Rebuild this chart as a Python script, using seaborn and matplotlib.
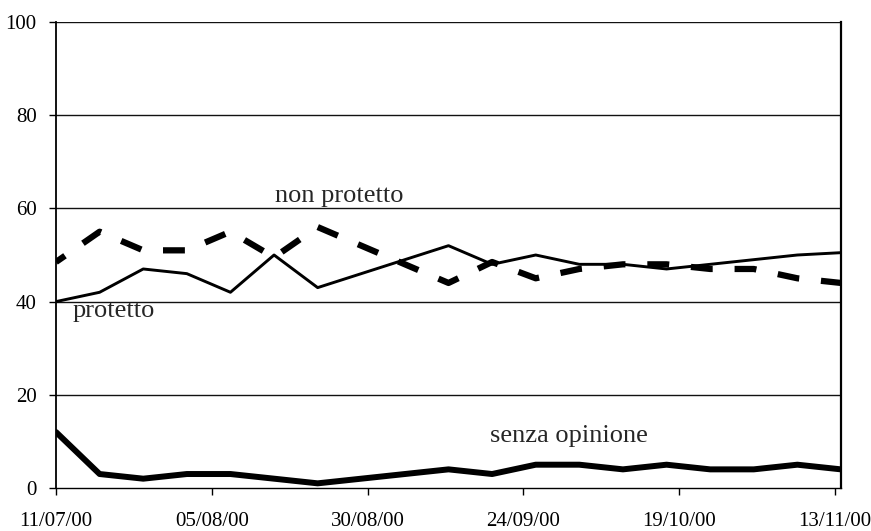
import matplotlib
matplotlib.use("Agg")
import matplotlib.pyplot as plt
import matplotlib.dates as mdates
import seaborn as sns
import pandas as pd

dates = pd.date_range("2000-07-11", periods=19, freq="7D")
protetto = [40, 42, 47, 46, 42, 50, 43, 46, 49, 52, 48, 50, 48, 48, 47, 48, 49, 50, 50.5]
non_protetto = [48.5, 55, 51, 51, 55, 49.5, 56, 52, 48, 44, 48.5, 45, 47, 48, 48, 47, 47, 45, 44]
senza_opinione = [12, 3, 2, 3, 3, 2, 1, 2, 3, 4, 3, 5, 5, 4, 5, 4, 4, 5, 4]
y_ticks = [0, 20, 40, 60, 80, 100]

sns.set_style("white")
plt.rcParams["font.family"] = ["Liberation Serif", "DejaVu Serif"]

fig = plt.figure(figsize=(8.71, 5.31), dpi=100)
ax = fig.add_axes([56 / 871, 1 - 488 / 531, (841 - 56) / 871, (488 - 22) / 531])

df = pd.DataFrame({"date": dates, "protetto": protetto,
                   "non_protetto": non_protetto, "senza": senza_opinione})

for yv in y_ticks[1:]:
    ax.axhline(yv, color="#111111", lw=1.0, zorder=1)

sns.lineplot(data=df, x="date", y="protetto", ax=ax, color="black", lw=2.1, zorder=3)
sns.lineplot(data=df, x="date", y="senza", ax=ax, color="black", lw=4.3, zorder=3)
sns.lineplot(data=df, x="date", y="non_protetto", ax=ax, color="black", lw=4.5, zorder=4)
dl = ax.get_lines()[-1]
dl.set_linestyle((1.75, (3.5, 3.5)))
dl.set_dash_capstyle("butt")

ax.set_ylim(0, 100)
ax.set_xlim(pd.Timestamp("2000-07-11"), pd.Timestamp("2000-11-14"))
ax.set_yticks(y_ticks)
xt = pd.date_range("2000-07-11", periods=6, freq="25D")
ax.set_xticks(xt)
ax.xaxis.set_major_formatter(mdates.DateFormatter("%d/%m/%y"))
ax.set_xlabel("")
ax.set_ylabel("")

ax.tick_params(axis="both", direction="out", length=5, width=1, color="black",
               labelsize=15, labelcolor="black")
ax.tick_params(axis="x", pad=12)
ax.tick_params(axis="y", pad=9)
ax.xaxis.set_ticks_position("bottom")
ax.yaxis.set_ticks_position("left")

for s in ["left", "right", "bottom"]:
    ax.spines[s].set_visible(True)
    ax.spines[s].set_color("black")
ax.spines["left"].set_linewidth(1.3)
ax.spines["bottom"].set_linewidth(1.0)
ax.spines["right"].set_linewidth(1.6)
ax.spines["top"].set_visible(False)

base = pd.Timestamp("2000-07-11")
ax.text(base + pd.Timedelta(days=35.1), 61.4, "non protetto", fontsize=19, ha="left", va="baseline")
ax.text(base + pd.Timedelta(days=2.7), 36.8, "protetto", fontsize=19, ha="left", va="baseline")
ax.text(base + pd.Timedelta(days=69.6), 9.9, "senza opinione", fontsize=19, ha="left", va="baseline")

fig.savefig("out.png", dpi=100)
